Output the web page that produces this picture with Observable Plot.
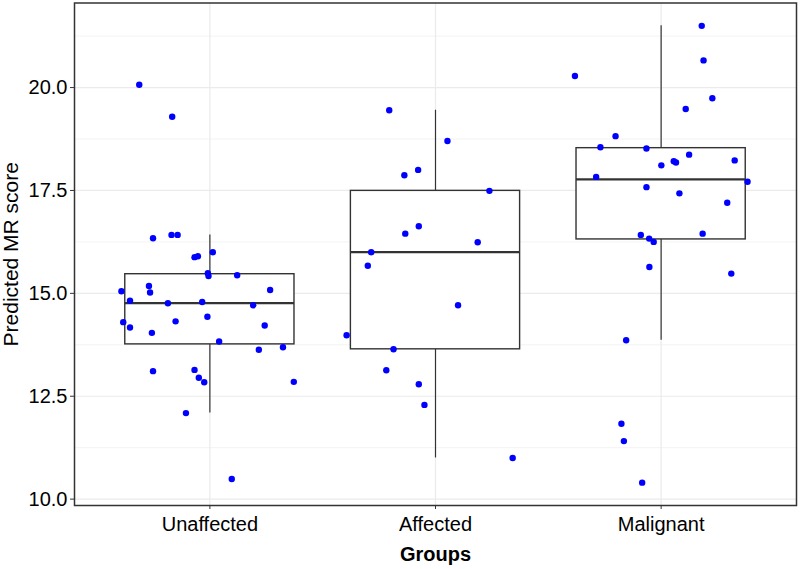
<!DOCTYPE html>
<html>
<head>
<meta charset="utf-8">
<script src="https://cdn.jsdelivr.net/npm/d3@7"></script>
<script src="https://cdn.jsdelivr.net/npm/@observablehq/plot@0.6"></script>
<style>
  html, body { margin: 0; padding: 0; background: #fff; }
  #chart { width: 800px; height: 569px; }
  svg { font-family: "Liberation Sans", Arial, sans-serif; }
</style>
</head>
<body>
<div id="chart"></div>
<script>
// ---- data ----
const groups = ["Unaffected", "Affected", "Malignant"];

const unaffectedScores = [20.07, 19.29, 16.34, 16.42, 16.42, 15.88, 15.90, 16.00, 15.49, 15.42, 15.44, 15.18, 15.02, 15.05, 15.08, 14.82, 14.76, 14.79, 14.71, 14.30, 14.17, 14.32, 14.43, 14.04, 14.22, 13.83, 13.63, 13.69, 13.11, 13.14, 12.95, 12.84, 12.85, 12.09, 10.49];
const unaffectedJitter = [-0.313, -0.167, -0.252, -0.170, -0.143, -0.068, -0.053, 0.013, -0.009, -0.006, 0.121, -0.270, -0.265, -0.392, 0.267, -0.354, -0.186, -0.034, 0.192, -0.384, -0.354, -0.152, -0.011, -0.257, 0.243, 0.041, 0.217, 0.324, -0.252, -0.068, -0.049, -0.025, 0.372, -0.106, 0.097];

const affectedScores = [19.45, 18.70, 17.87, 18.00, 17.49, 16.63, 16.45, 16.24, 16.00, 15.67, 14.71, 13.98, 13.64, 13.13, 12.79, 12.29, 11.00];
const affectedJitter = [-0.205, 0.053, -0.138, -0.077, 0.239, -0.074, -0.134, 0.187, -0.285, -0.300, 0.100, -0.394, -0.186, -0.218, -0.074, -0.049, 0.342];

const malignantScores = [21.50, 20.66, 20.28, 19.74, 19.48, 18.82, 18.55, 18.52, 18.37, 18.23, 18.21, 18.18, 18.11, 17.83, 17.71, 17.58, 17.43, 17.20, 16.42, 16.45, 16.33, 16.25, 15.64, 15.48, 13.86, 11.83, 11.41, 10.40];
const malignantJitter = [0.180, 0.188, -0.382, 0.227, 0.109, -0.202, -0.269, -0.065, 0.124, 0.326, 0.056, 0.066, 0.001, -0.288, 0.383, -0.065, 0.081, 0.293, -0.090, 0.184, -0.053, -0.033, -0.052, 0.311, -0.155, -0.176, -0.165, -0.084];

const yTicks = [10, 12.5, 15, 17.5, 20];
const yMinorTicks = [11.25, 13.75, 16.25, 18.75, 21.25];

// ---- derived tables ----
const scoreSets = [unaffectedScores, affectedScores, malignantScores];
const jitterSets = [unaffectedJitter, affectedJitter, malignantJitter];

const points = groups.flatMap((g, i) =>
  scoreSets[i].map((v, j) => ({group: g, pos: i + 1 + jitterSets[i][j], score: v}))
);

const boxHalf = 0.375;
const stats = groups.map((g, i) => {
  const s = scoreSets[i].slice().sort(d3.ascending);
  const q1 = d3.quantile(s, 0.25), med = d3.quantile(s, 0.5), q3 = d3.quantile(s, 0.75);
  const iqr = q3 - q1;
  const lo = d3.min(s.filter(v => v >= q1 - 1.5 * iqr));
  const hi = d3.max(s.filter(v => v <= q3 + 1.5 * iqr));
  return {group: g, pos: i + 1, q1, med, q3, lo, hi};
});

const allScores = scoreSets.flat();
const [ymin, ymax] = d3.extent(allScores);
const pad = (ymax - ymin) * 0.05;

const ink = "#333333";
const grid = "#ebebeb";

const chart = Plot.plot({
  width: 800,
  height: 569,
  marginTop: 2.5,
  marginBottom: 64,
  marginLeft: 74,
  marginRight: 4,
  style: {fontFamily: "'Liberation Sans', Arial, sans-serif", background: "#fff"},
  x: {type: "linear", domain: [0.4, 3.6]},
  y: {domain: [ymin - pad, ymax + pad]},
  marks: [
    Plot.gridY({ticks: yMinorTicks, stroke: grid, strokeOpacity: 1, strokeWidth: 0.6}),
    Plot.gridY({ticks: yTicks, stroke: grid, strokeOpacity: 1, strokeWidth: 1.2}),
    Plot.gridX({ticks: [1, 2, 3], stroke: grid, strokeOpacity: 1, strokeWidth: 1.2}),
    Plot.ruleX(stats, {x: "pos", y1: "lo", y2: "q1", stroke: ink, strokeWidth: 1.2}),
    Plot.ruleX(stats, {x: "pos", y1: "q3", y2: "hi", stroke: ink, strokeWidth: 1.2}),
    Plot.rect(stats, {x1: d => d.pos - boxHalf, x2: d => d.pos + boxHalf, y1: "q1", y2: "q3",
      fill: "white", stroke: ink, strokeWidth: 1.4}),
    Plot.ruleY(stats, {y: "med", x1: d => d.pos - boxHalf, x2: d => d.pos + boxHalf,
      stroke: ink, strokeWidth: 2.2}),
    Plot.dot(points, {x: "pos", y: "score", r: 3.2, fill: "#0000ff", stroke: "none"}),
    Plot.frame({stroke: ink, strokeWidth: 1.5}),
    Plot.axisY({
      ticks: yTicks, tickFormat: d3.format(".1f"), tickSize: 4, tickPadding: 3,
      fontSize: 20, color: "#000", stroke: ink,
      label: "Predicted MR score", labelAnchor: "center", labelArrow: "none", labelOffset: 71
    }),
    Plot.axisX({
      ticks: [1, 2, 3], tickFormat: i => groups[i - 1], tickSize: 4, tickPadding: 7,
      fontSize: 20, color: "#000", stroke: ink,
      label: "Groups", labelAnchor: "center", labelArrow: "none", labelOffset: 55
    })
  ]
});

d3.select(chart).selectAll('[aria-label="x-axis label"]').style("font-weight", "bold").style("font-size", "20px");
d3.select(chart).selectAll('[aria-label="y-axis label"]').style("font-size", "21px");
document.getElementById("chart").appendChild(chart);
</script>
</body>
</html>
